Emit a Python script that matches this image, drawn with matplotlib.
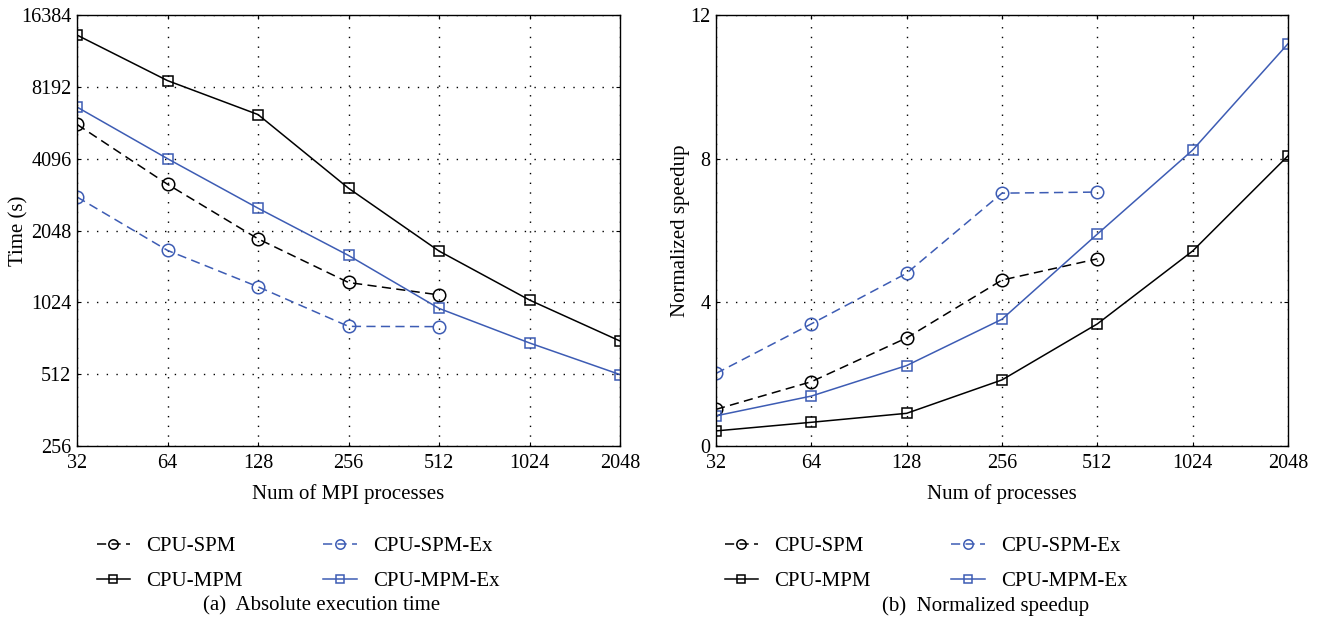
import matplotlib
matplotlib.use("Agg")
import matplotlib.pyplot as plt
from matplotlib.ticker import FixedLocator, FixedFormatter, NullLocator

plt.rcParams['font.family'] = ['Liberation Serif', 'DejaVu Serif']
plt.rcParams['font.size'] = 14.5

procs = [32, 64, 128, 256, 512, 1024, 2048]
procs_spm = [32, 64, 128, 256, 512]

# (a) absolute execution time (s)
time_spm = [5700, 3200, 1890, 1240, 1100]
time_spm_ex = [2830, 1690, 1190, 812, 810]
time_mpm = [13500, 8700, 6270, 3080, 1680, 1047, 705]
time_mpm_ex = [6740, 4096, 2540, 1610, 966, 692, 510]

# (b) normalized speedup
sp_spm = [1.02, 1.79, 3.01, 4.62, 5.21]
sp_spm_ex = [2.02, 3.40, 4.81, 7.04, 7.07]
sp_mpm = [0.42, 0.66, 0.91, 1.84, 3.40, 5.43, 8.08]
sp_mpm_ex = [0.84, 1.39, 2.24, 3.53, 5.90, 8.24, 11.2]

x_labels = ['32', '64', '128', '256', '512', '1024', '2048']
y_ticks_a = [256, 512, 1024, 2048, 4096, 8192, 16384]
y_ticks_b = [0, 4, 8, 12]

BLACK = 'black'
BLUE = '#3d5cb4'

W, H = 1323, 629
fig = plt.figure(figsize=(13.23, 6.29), dpi=100)
ax1 = fig.add_axes([77/W, 1-446/H, (620-77)/W, (446-15)/H])
ax2 = fig.add_axes([716/W, 1-446/H, (1288-716)/W, (446-15)/H])

DASH = (0, (6, 3.5))

def draw(ax, spm, spm_ex, mpm, mpm_ex):
    base = dict(markerfacecolor='none', markeredgewidth=1.1, linewidth=1.1)
    h1, = ax.plot(procs_spm, spm, color=BLACK, linestyle=DASH, marker='o', markersize=9, label='CPU-SPM', **base)
    h2, = ax.plot(procs, mpm, '-', color=BLACK, marker='s', markersize=7.5, label='CPU-MPM', **base)
    h3, = ax.plot(procs_spm, spm_ex, color=BLUE, linestyle=DASH, marker='o', markersize=9, label='CPU-SPM-Ex', **base)
    h4, = ax.plot(procs, mpm_ex, '-', color=BLUE, marker='s', markersize=7.5, label='CPU-MPM-Ex', **base)
    ax.set_xscale('log', base=2)
    ax.set_xlim(32, 2048)
    ax.xaxis.set_major_locator(FixedLocator(procs))
    ax.xaxis.set_major_formatter(FixedFormatter(x_labels))
    ax.xaxis.set_minor_locator(NullLocator())
    ax.grid(True, which='major', linestyle=(0, (1, 6)), color='black', linewidth=1.0)
    ax.tick_params(direction='in', length=3, top=True, right=True, labelsize=14.5)
    ax.tick_params(axis='x', pad=6)
    ax.tick_params(axis='y', pad=4)
    for s in ax.spines.values():
        s.set_linewidth(1.0)
    return [h1, h2, h3, h4]

def fig_to_axes_x(ax, px):
    x0 = ax.get_position().x0 * W
    w = ax.get_position().width * W
    return (px - x0) / w

handles = draw(ax1, time_spm, time_spm_ex, time_mpm, time_mpm_ex)
ax1.set_yscale('log', base=2)
ax1.set_ylim(256, 16384)
ax1.yaxis.set_major_locator(FixedLocator(y_ticks_a))
ax1.yaxis.set_major_formatter(FixedFormatter([str(v) for v in y_ticks_a]))
ax1.yaxis.set_minor_locator(NullLocator())
ax1.set_ylabel('Time (s)', fontsize=15)
ax1.yaxis.set_label_coords(fig_to_axes_x(ax1, 28), 0.5)
ax1.set_xlabel('Num of MPI processes', fontsize=15, labelpad=8)

draw(ax2, sp_spm, sp_spm_ex, sp_mpm, sp_mpm_ex)
ax2.set_ylim(0, 12)
ax2.yaxis.set_major_locator(FixedLocator(y_ticks_b))
ax2.set_ylabel('Normalized speedup', fontsize=15)
ax2.yaxis.set_label_coords(fig_to_axes_x(ax2, 690), 0.5)
ax2.set_xlabel('Num of processes', fontsize=15, labelpad=8)

leg_kw = dict(ncol=2, frameon=False, fontsize=15, handlelength=1.6, handletextpad=0.8,
              columnspacing=3.85, labelspacing=0.75, loc='upper left', markerscale=0.75,
              borderpad=0.2, bbox_transform=fig.transFigure)
ax1.legend(handles=handles, bbox_to_anchor=(82/W, 1-522/H), **leg_kw)
ax2.legend(handles=handles, bbox_to_anchor=(710/W, 1-522/H), **leg_kw)

fig.text(322/W, 1-606/H, '(a)  Absolute execution time', ha='center', va='center', fontsize=15)
fig.text(986/W, 1-606/H, '(b)  Normalized speedup', ha='center', va='center', fontsize=15)

fig.savefig('out.png', dpi=100)
